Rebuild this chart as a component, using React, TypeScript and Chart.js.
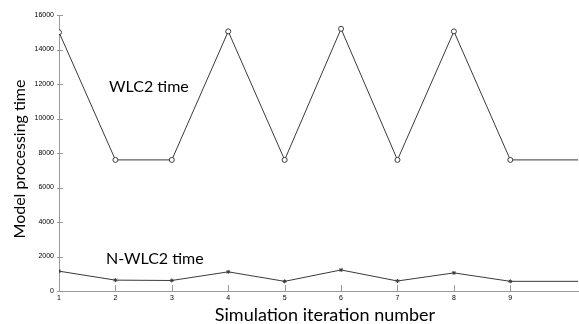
import React, { useEffect, useRef } from "react";
import { Chart, registerables } from "chart.js";

Chart.register(...registerables);

// Simulation iterations and model processing time per iteration
const iterations = [1, 2, 3, 4, 5, 6, 7, 8, 9];
const wlc2Time = [15000, 7600, 7600, 15050, 7600, 15200, 7600, 15050, 7600];
const nwlc2Time = [1150, 630, 610, 1110, 560, 1220, 580, 1050, 560];
// x position where the flat tail of each series ends (right edge of the axis)
const xAxisEnd = 10.2;
const yTicks = [0, 2000, 4000, 6000, 8000, 10000, 12000, 14000, 16000];

const seriesLabels = ["WLC2 time", "N-WLC2 time"];
const xTitle = "Simulation iteration number";
const yTitle = "Model processing time";

const LINE = "#3a3a3a";
const AXIS = "#9a9a9a";
const TEXT_FONT = "Lato, 'Open Sans', sans-serif";

function withTail(values: number[]) {
  const pts = iterations.map((x, i) => ({ x, y: values[i] }));
  pts.push({ x: xAxisEnd, y: values[values.length - 1] });
  return pts;
}

const annotations = {
  id: "annotations",
  afterDraw(chart: any) {
    const { ctx, chartArea, scales } = chart;
    const xs = scales.x;
    const ys = scales.y;
    ctx.save();
    // inward tick marks on both axes
    ctx.strokeStyle = AXIS;
    ctx.lineWidth = 1;
    ctx.beginPath();
    for (const v of yTicks) {
      const y = Math.round(ys.getPixelForValue(v)) + 0.5;
      ctx.moveTo(chartArea.left - 2, y);
      ctx.lineTo(chartArea.left + 4, y);
    }
    for (const v of iterations) {
      const x = Math.round(xs.getPixelForValue(v)) + 0.5;
      ctx.moveTo(x, chartArea.bottom);
      ctx.lineTo(x, chartArea.bottom - 6);
    }
    ctx.stroke();

    // series labels
    ctx.fillStyle = "#000";
    ctx.font = `16px ${TEXT_FONT}`;
    ctx.textAlign = "left";
    ctx.textBaseline = "alphabetic";
    ctx.fillText(seriesLabels[0], 109, 92);
    ctx.fillText(seriesLabels[1], 106, 264);

    // axis titles
    ctx.font = `18px ${TEXT_FONT}`;
    ctx.textAlign = "center";
    ctx.fillText(xTitle, 325, 321);
    ctx.font = `16px ${TEXT_FONT}`;
    ctx.textBaseline = "middle";
    ctx.translate(20, 159);
    ctx.rotate(-Math.PI / 2);
    ctx.fillText(yTitle, 0, 0);
    ctx.restore();
  },
};

export default function App() {
  const ref = useRef<HTMLCanvasElement>(null);

  useEffect(() => {
    if (!ref.current) return;
    const chart = new Chart(ref.current, {
      type: "line",
      data: {
        datasets: [
          {
            label: seriesLabels[0],
            data: withTail(wlc2Time),
            borderColor: LINE,
            borderWidth: 1,
            pointStyle: "circle",
            pointRadius: [...iterations.map(() => 2.5), 0],
            pointBackgroundColor: "#fff",
            pointBorderColor: LINE,
            pointBorderWidth: 1,
          },
          {
            label: seriesLabels[1],
            data: withTail(nwlc2Time),
            borderColor: LINE,
            borderWidth: 1,
            pointStyle: "star",
            pointRadius: [...iterations.map(() => 2), 0],
            pointBackgroundColor: LINE,
            pointBorderColor: LINE,
            pointBorderWidth: 1,
          },
        ],
      },
      options: {
        responsive: false,
        animation: false,
        layout: { padding: { top: 15, right: 1, left: 0, bottom: 0 } },
        plugins: { legend: { display: false }, tooltip: { enabled: false } },
        scales: {
          x: {
            type: "linear",
            min: 1,
            max: xAxisEnd,
            afterBuildTicks: (s: any) => {
              s.ticks = iterations.map((v) => ({ value: v }));
            },
            afterFit: (s: any) => {
              s.height = 33;
              s.paddingLeft = 0;
              s.paddingRight = 0;
            },
            grid: { display: true, drawOnChartArea: false, drawTicks: false, color: AXIS },
            border: { color: AXIS, width: 1 },
            ticks: {
              padding: 3,
              color: "#000",
              font: { family: "'Liberation Sans', Arial", size: 7 },
              maxRotation: 0,
              callback: (v: any) => String(v),
            },
          },
          y: {
            min: 0,
            max: 16000,
            afterBuildTicks: (s: any) => {
              s.ticks = yTicks.map((v) => ({ value: v }));
            },
            afterFit: (s: any) => {
              s.width = 59;
            },
            grid: { display: true, drawOnChartArea: false, drawTicks: false, color: AXIS },
            border: { color: AXIS, width: 1 },
            ticks: {
              padding: 5,
              color: "#000",
              font: { family: "'Liberation Sans', Arial", size: 7 },
              callback: (v: any) => String(v),
            },
          },
        },
      },
      plugins: [annotations],
    });
    return () => chart.destroy();
  }, []);

  return (
    <div
      style={{
        position: "absolute",
        left: 0,
        top: 0,
        width: 579,
        height: 324,
        overflow: "hidden",
        background: "#fff",
      }}
    >
      <canvas ref={ref} width={583} height={324} />
    </div>
  );
}
